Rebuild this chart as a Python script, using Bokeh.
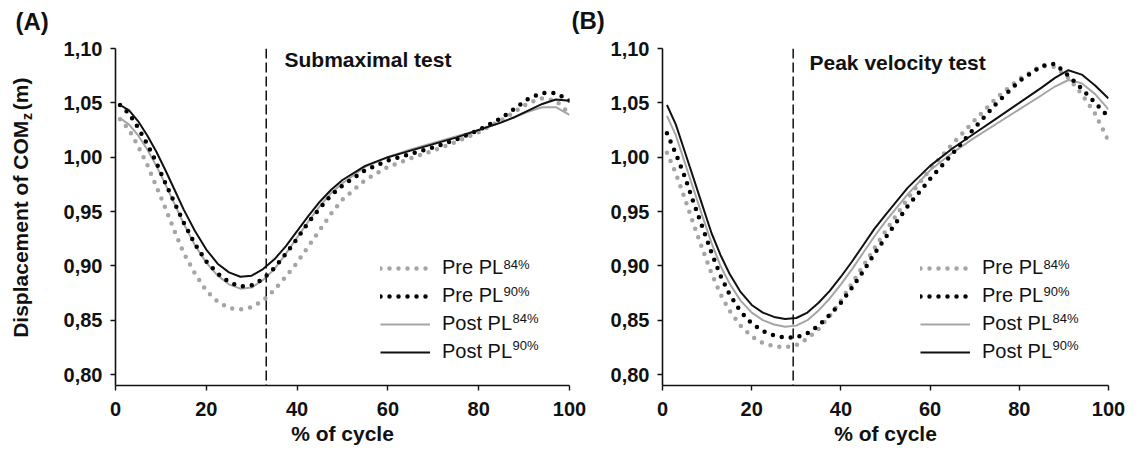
import math
from bokeh.plotting import figure
from bokeh.layouts import row, column
from bokeh.models import Span, Label, Legend, LegendItem, FixedTicker
from bokeh.core.properties import value
from bokeh.embed import file_html
from bokeh.resources import INLINE

# ---------------- data ----------------
x_pct = [1, 3, 5, 7, 9, 11, 13, 15, 17.5, 20, 22.5, 25, 27.5, 30, 32.5, 35, 37.5,
         40, 42.5, 45, 47.5, 50, 55, 60, 65, 70, 75, 80, 85, 88, 91, 94, 97, 100]

# Panel A - Submaximal test
a_pre84 = [1.035, 1.025, 1.010, 0.993, 0.973, 0.953, 0.932, 0.912, 0.893, 0.877, 0.867, 0.861,
           0.860, 0.862, 0.868, 0.878, 0.890, 0.903, 0.918, 0.933, 0.948, 0.961, 0.979, 0.991,
           0.999, 1.006, 1.014, 1.023, 1.034, 1.042, 1.050, 1.054, 1.052, 1.040]
a_pre90 = [1.048, 1.040, 1.027, 1.012, 0.995, 0.976, 0.958, 0.940, 0.920, 0.904, 0.893, 0.885,
           0.881, 0.882, 0.888, 0.898, 0.911, 0.925, 0.940, 0.953, 0.965, 0.974, 0.988, 0.997,
           1.003, 1.009, 1.016, 1.025, 1.036, 1.045, 1.054, 1.059, 1.059, 1.052]
a_post84 = [1.036, 1.030, 1.020, 1.007, 0.992, 0.975, 0.957, 0.939, 0.919, 0.903, 0.891, 0.883,
            0.879, 0.880, 0.887, 0.897, 0.911, 0.926, 0.941, 0.955, 0.967, 0.976, 0.991, 1.000,
            1.007, 1.013, 1.019, 1.025, 1.032, 1.037, 1.042, 1.046, 1.046, 1.039]
a_post90 = [1.048, 1.043, 1.033, 1.020, 1.005, 0.988, 0.970, 0.952, 0.932, 0.915, 0.902, 0.894,
            0.890, 0.891, 0.897, 0.906, 0.918, 0.932, 0.946, 0.959, 0.970, 0.979, 0.992, 1.000,
            1.006, 1.012, 1.018, 1.025, 1.032, 1.037, 1.043, 1.049, 1.053, 1.052]

# Panel B - Peak velocity test
b_pre84 = [1.004, 0.985, 0.962, 0.938, 0.915, 0.893, 0.874, 0.859, 0.845, 0.835, 0.829, 0.826,
           0.825, 0.827, 0.833, 0.842, 0.854, 0.868, 0.884, 0.900, 0.916, 0.932, 0.962, 0.989,
           1.012, 1.034, 1.055, 1.072, 1.084, 1.083, 1.073, 1.058, 1.040, 1.015]
b_pre90 = [1.022, 1.003, 0.982, 0.958, 0.935, 0.912, 0.891, 0.874, 0.858, 0.847, 0.840, 0.836,
           0.834, 0.834, 0.838, 0.845, 0.855, 0.866, 0.880, 0.895, 0.911, 0.926, 0.955, 0.980,
           1.003, 1.027, 1.050, 1.070, 1.084, 1.086, 1.075, 1.063, 1.050, 1.037]
b_post84 = [1.038, 1.020, 0.995, 0.970, 0.945, 0.921, 0.900, 0.884, 0.868, 0.857, 0.850, 0.846,
            0.844, 0.845, 0.850, 0.859, 0.870, 0.883, 0.897, 0.912, 0.927, 0.941, 0.966, 0.988,
            1.004, 1.018, 1.031, 1.044, 1.057, 1.065, 1.071, 1.068, 1.058, 1.044]
b_post90 = [1.048, 1.030, 1.005, 0.980, 0.955, 0.930, 0.910, 0.893, 0.876, 0.864, 0.857, 0.853,
            0.851, 0.852, 0.857, 0.866, 0.877, 0.890, 0.904, 0.919, 0.934, 0.947, 0.972, 0.992,
            1.008, 1.022, 1.036, 1.050, 1.064, 1.073, 1.080, 1.076, 1.066, 1.054]

series_names = ["Pre PL", "Pre PL", "Post PL", "Post PL"]
series_sup = ["84%", "90%", "84%", "90%"]
x_ticks = [0, 20, 40, 60, 80, 100]
y_ticks = [0.80, 0.85, 0.90, 0.95, 1.00, 1.05, 1.10]
y_tick_labels = ["0,80", "0,85", "0,90", "0,95", "1,00", "1,05", "1,10"]
cut_a = 33.2
cut_b = 29.3
title_a = "Submaximal test"
title_b = "Peak velocity test"
panel_letters = ["(A)", "(B)"]
x_label = "% of cycle"
y_label_main = "Displacement of COM"
y_label_sub = "z"
y_label_end = "(m)"

FONT = "Liberation Sans"
INK = "#111111"
GRAY = "#a5a5a5"
styles = [
    dict(line_color=GRAY, line_width=4.5, line_dash="0 9", line_cap="round"),
    dict(line_color="#000000", line_width=4.5, line_dash="0 9", line_cap="round"),
    dict(line_color=GRAY, line_width=2),
    dict(line_color=INK, line_width=2),
]

TOP_H = 36
ROW_H = 415
TOTAL_W = 1127
YLAB_W = 50


def make_panel(width, bl, br, series, cut, title, title_xy, legend_xy):
    p = figure(width=width, height=ROW_H, x_range=(0, 100), y_range=(0.7899, 1.10),
               output_backend="svg", toolbar_location=None,
               min_border_left=bl, min_border_right=br, min_border_top=12,
               min_border_bottom=66)
    p.outline_line_color = None
    p.grid.visible = False

    for ax in (p.xaxis[0], p.yaxis[0]):
        ax.axis_line_color = INK
        ax.axis_line_width = 1.6
        ax.major_tick_line_color = INK
        ax.major_tick_line_width = 1.4
        ax.major_tick_in = 0
        ax.major_tick_out = 5
        ax.minor_tick_line_color = None
        ax.major_label_text_font = FONT
        ax.major_label_text_font_style = "bold"
        ax.major_label_text_font_size = "20px"
        ax.major_label_text_color = INK
    p.xaxis.ticker = FixedTicker(ticks=x_ticks)
    p.yaxis.ticker = FixedTicker(ticks=y_ticks)
    p.yaxis.major_label_overrides = {t: s for t, s in zip(y_ticks, y_tick_labels)}
    p.xaxis.major_label_standoff = 11
    p.yaxis.major_label_standoff = 8
    p.xaxis.axis_label = x_label
    p.xaxis.axis_label_text_font = FONT
    p.xaxis.axis_label_text_font_style = "bold"
    p.xaxis.axis_label_text_font_size = "21px"
    p.xaxis.axis_label_text_color = INK
    p.xaxis.axis_label_standoff = 3

    rmap = {}
    for i in [0, 2, 1, 3]:
        rmap[i] = p.line(x_pct, series[i], **styles[i])

    p.add_layout(Span(location=cut, dimension="height", line_color=INK,
                      line_width=1.5, line_dash="10 4"))

    lx, ly = legend_xy
    legend = Legend(items=[LegendItem(label=series_names[i], renderers=[rmap[i]]) for i in range(4)],
                    location=(lx, ly), orientation="vertical",
                    label_text_font=FONT, label_text_font_size="20px", label_text_color=INK,
                    glyph_width=50, glyph_height=22, label_height=22, label_standoff=12,
                    spacing=5, padding=0, margin=0,
                    background_fill_alpha=0, border_line_color=None)
    p.add_layout(legend)
    text_x0 = lx + 50 + 12
    widths = [61, 61, 70, 70]
    row_h = 22 + 5
    for i in range(4):
        cy = ly + 11 + (3 - i) * row_h
        p.add_layout(Label(x=text_x0 + widths[i], y=cy + 7, x_units="screen", y_units="screen",
                           text=series_sup[i], text_font=FONT, text_font_size="13px",
                           text_color=INK, text_baseline="middle", text_align="left"))

    tx, ty = title_xy
    p.add_layout(Label(x=tx, y=ty, x_units="screen", y_units="screen", text=title,
                       text_font=FONT, text_font_style="bold", text_font_size="21px",
                       text_color=INK, text_baseline="middle", text_align="left"))
    return p


def blank(width, height):
    f = figure(width=width, height=height, x_range=(0, width), y_range=(0, height),
               x_axis_type=None, y_axis_type=None, output_backend="svg",
               toolbar_location=None, min_border=0, title=None)
    f.outline_line_color = None
    f.grid.visible = False
    return f


# top strip with panel letters
top = blank(TOTAL_W, TOP_H)
top.text(x=[15, 571], y=[15, 16], text=panel_letters, text_font=value(FONT),
         text_font_style="bold", text_font_size=value("24px"), text_color=INK,
         text_baseline="middle", text_align="left")

# y-axis label strip (rotated text with subscript), joined at one anchor point
ylab = blank(YLAB_W, ROW_H)
anchor_y = 326
ylab.text(x=[20], y=[anchor_y], text=[y_label_main], angle=math.pi / 2, text_font=value(FONT),
          text_font_style="bold", text_font_size=value("21px"), text_color=INK,
          text_baseline="middle", text_align="right")
ylab.text(x=[26], y=[anchor_y + 1], text=[y_label_sub], angle=math.pi / 2, text_font=value(FONT),
          text_font_style="bold", text_font_size=value("14px"), text_color=INK,
          text_baseline="middle", text_align="left")
ylab.text(x=[20], y=[anchor_y + 13], text=[y_label_end], angle=math.pi / 2,
          text_font=value(FONT), text_font_style="bold", text_font_size=value("21px"),
          text_color=INK, text_baseline="middle", text_align="left")

# panel A: page x 50 -> 600, frame 115 -> 569
pA = make_panel(550, 65, 31, [a_pre84, a_pre90, a_post84, a_post90], cut_a, title_a,
                (169, 326), (265, 22))
# panel B: page x 600 -> 1127, frame 662 -> 1108
pB = make_panel(527, 62, 19, [b_pre84, b_pre90, b_post84, b_post90], cut_b, title_b,
                (147, 323), (258, 22))

layout = column(top, row(ylab, pA, pB, spacing=0), spacing=0)
open("out.html", "w").write(file_html(layout, INLINE))
